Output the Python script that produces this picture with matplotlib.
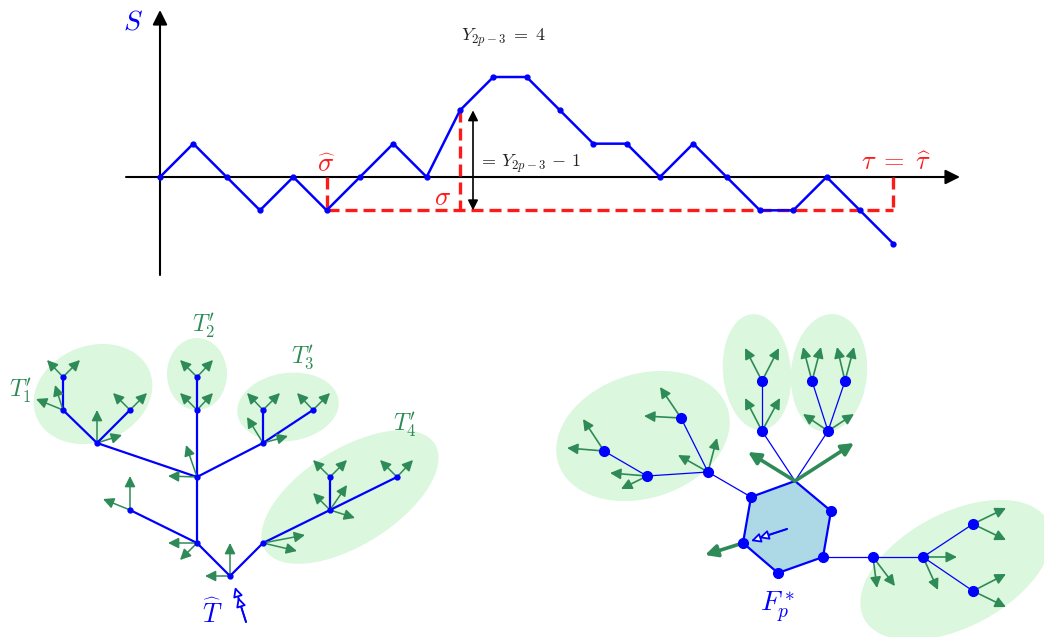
import matplotlib.pyplot as plt
from matplotlib.patches import Ellipse, Polygon, FancyArrowPatch

plt.rcParams['mathtext.fontset'] = 'cm'

BLUE = '#0000ff'
GREEN = '#2e8b57'
BLOB = '#dbf7dd'
RED = '#ff1a1a'

# --- walk S (top panel) ---
walk = [0, 1, 0, -1, 0, -1, 0, 1, 0, 2, 3, 3, 2, 1, 1, 0, 1, 0, -1, -1, 0, -1, -2]
i_sigma_hat = 5
i_sigma = 9
i_tau = 22
ox, oy, step = 160, 177, 33.33

# --- left tree T ---
lt_nodes = {
    'r': (230, 576), 'A': (197, 543), 'B': (263, 543), 'C': (197, 477),
    'D': (130, 510), 'H': (97, 443), 'M': (197, 410), 'N': (197, 377),
    'I': (263, 443), 'J': (63, 410), 'L': (63, 377), 'K': (130, 410),
    'O': (263, 410), 'P': (313, 410), 'E': (330, 510), 'F': (330, 477),
    'G': (397, 477),
}
lt_edges = [('r', 'A'), ('r', 'B'), ('A', 'C'), ('A', 'D'), ('C', 'H'),
            ('C', 'M'), ('M', 'N'), ('C', 'I'), ('H', 'J'), ('J', 'L'),
            ('H', 'K'), ('I', 'O'), ('I', 'P'), ('B', 'E'), ('E', 'F'),
            ('E', 'G')]
lt_arrows = [('r', (230, 543)), ('r', (205, 576)),
             ('A', (168, 543)), ('A', (180, 560)),
             ('D', (130, 476)), ('D', (103, 499)),
             ('C', (168, 476)), ('C', (186, 445)),
             ('B', (305, 535)), ('B', (297, 551)),
             ('E', (313, 493)), ('E', (347, 485)), ('E', (355, 518)),
             ('F', (313, 460)), ('F', (347, 460)),
             ('G', (380, 460)), ('G', (413, 460)),
             ('H', (97, 410)), ('H', (122, 435)),
             ('J', (36, 399)), ('J', (55, 385)),
             ('L', (47, 360)), ('L', (80, 360)),
             ('K', (113, 393)), ('K', (147, 393)),
             ('M', (180, 393)), ('M', (213, 393)),
             ('N', (180, 360)), ('N', (213, 360)),
             ('I', (247, 417)), ('I', (288, 436)),
             ('O', (247, 393)), ('O', (280, 393)),
             ('P', (297, 393)), ('P', (330, 393))]
# blobs: centre, width, height, angle
lt_blobs = [((93, 394), 122, 96, -22), ((197, 374), 60, 72, 0),
            ((288, 407), 102, 68, -8), ((350, 497), 200, 96, -32)]
lt_labels = [(r"$T^{\prime}_{1}$", (20, 391)), (r"$T^{\prime}_{2}$", (204, 326)),
             (r"$T^{\prime}_{3}$", (303, 358)), (r"$T^{\prime}_{4}$", (405, 425))]

# --- right forest F_p^* ---
hexagon = [(795, 481), (831, 511), (823, 557), (778, 573), (743, 543), (751, 497)]
rt_nodes = {
    'V1': hexagon[0], 'V3': hexagon[2], 'V5': hexagon[4], 'V6': hexagon[5],
    'Q': (708, 472), 'Q1': (681, 418), 'Q2': (647, 476), 'Q3': (604, 451),
    'R1': (762, 431), 'R1a': (762, 381), 'R2': (828, 431), 'R2a': (812, 381),
    'R2b': (845, 381), 'S1': (873, 557), 'S2': (923, 557), 'S3': (973, 524),
    'S4': (973, 591),
}
rt_edges = [('V6', 'Q'), ('Q', 'Q1'), ('Q', 'Q2'), ('Q2', 'Q3'), ('V1', 'R1'),
            ('V1', 'R2'), ('R1', 'R1a'), ('R2', 'R2a'), ('R2', 'R2b'),
            ('V3', 'S1'), ('S1', 'S2'), ('S2', 'S3'), ('S2', 'S4')]
rt_arrows = [('Q', (717, 438)), ('Q', (678, 455)),
             ('Q1', (660, 387)), ('Q1', (644, 416)),
             ('Q3', (583, 419)), ('Q3', (567, 448)),
             ('Q2', (610, 473)), ('Q2', (621, 489)),
             ('R1', (745, 398)), ('R1', (780, 398)),
             ('R1a', (745, 348)), ('R1a', (779, 348)),
             ('R2', (803, 414)), ('R2', (854, 414)),
             ('R2a', (803, 347)), ('R2a', (821, 347)),
             ('R2b', (837, 347)), ('R2b', (854, 347)),
             ('S1', (877, 588)), ('S1', (895, 586)),
             ('S2', (957, 557)), ('S2', (938, 590)),
             ('S3', (1006, 508)), ('S3', (1006, 540)),
             ('S4', (1006, 574)), ('S4', (1006, 607))]
rt_thick_arrows = [('V1', (748, 452)), ('V1', (854, 443)), ('V5', (705, 555))]
rt_dots = ['Q', 'Q1', 'Q2', 'Q3', 'R1', 'R1a', 'R2', 'R2a', 'R2b',
           'S1', 'S2', 'S3', 'S4']
rt_blobs = [((643, 436), 178, 124, -18), ((757, 372), 68, 116, -5),
            ((829, 373), 76, 118, 5), ((956, 570), 208, 114, -28)]


def arrow(ax, p, q, color=GREEN, lw=1.2, ms=16, fc=None, z=3):
    a = FancyArrowPatch(p, q, arrowstyle='-|>', mutation_scale=ms, lw=lw,
                        color=color, shrinkA=0, shrinkB=0, zorder=z)
    if fc is not None:
        a.set_facecolor(fc)
    ax.add_patch(a)


fig = plt.figure(figsize=(10.44, 6.37), dpi=100)
ax = fig.add_axes([0, 0, 1, 1])
ax.set_xlim(0, 1044)
ax.set_ylim(637, 0)
ax.axis('off')

# ---------------- top panel ----------------
arrow(ax, (160, 275), (160, 10), color='black', lw=1.5, ms=22)
arrow(ax, (126, oy), (960, oy), color='black', lw=1.5, ms=22)
ax.text(133, 22, '$S$', color=BLUE, fontsize=20, ha='center', va='center')

xs = [ox + i * step for i in range(len(walk))]
ys = [oy - v * step for v in walk]
ax.plot(xs, ys, color=BLUE, lw=1.8, marker='o', ms=3.5, zorder=4)

low = ys[i_sigma_hat]
dash = dict(color=RED, lw=2.4, linestyle=(0, (3.6, 1.8)), zorder=3)
ax.plot([xs[i_sigma_hat], xs[i_tau]], [low, low], **dash)
ax.plot([xs[i_sigma_hat], xs[i_sigma_hat]], [oy, low], **dash)
ax.plot([xs[i_sigma], xs[i_sigma]], [ys[i_sigma], low], **dash)
ax.plot([xs[i_tau], xs[i_tau]], [oy, low], **dash)

a = FancyArrowPatch((473, ys[i_sigma]), (473, low), arrowstyle='<|-|>',
                    mutation_scale=15, lw=1.2, color='black',
                    shrinkA=0, shrinkB=0, zorder=5)
ax.add_patch(a)
ax.text(478, 164, r'$=\, Y_{2p-3} \,-\, 1$', fontsize=13, color='#222222',
        ha='left', va='center')
ax.text(503, 38, r'$Y_{2p-3} \;=\; 4$', fontsize=13, color='#222222',
        ha='center', va='center')
ax.text(326, 165, r'$\widehat{\sigma}$', color=RED, fontsize=19,
        ha='center', va='center')
ax.text(443, 198, r'$\sigma$', color=RED, fontsize=19, ha='center', va='center')
ax.text(896, 163, r'$\tau \;=\; \widehat{\tau}$', color=RED, fontsize=19,
        ha='center', va='center')

# ---------------- left tree ----------------
for (c, w, h, ang) in lt_blobs:
    ax.add_patch(Ellipse(c, w, h, angle=ang, fc=BLOB, ec='none', zorder=0))
for u, v in lt_edges:
    (x1, y1), (x2, y2) = lt_nodes[u], lt_nodes[v]
    ax.plot([x1, x2], [y1, y2], color=BLUE, lw=1.6, zorder=2)
for u, tip in lt_arrows:
    arrow(ax, lt_nodes[u], tip, lw=1.1)
for name, (x, y) in lt_nodes.items():
    ax.plot(x, y, 'o', color=BLUE, ms=3.5, zorder=4)
for txt, (x, y) in lt_labels:
    ax.text(x, y, txt, color=GREEN, fontsize=17, ha='center', va='center')
ax.text(212, 614, r'$\widehat{T}$', color=BLUE, fontsize=19,
        ha='center', va='center')
arrow(ax, (246, 622), (235, 587), color=BLUE, lw=1.3, ms=14, fc='white', z=5)
arrow(ax, (246, 622), (238, 597), color=BLUE, lw=1.3, ms=14, fc='white', z=5)

# ---------------- right forest ----------------
for (c, w, h, ang) in rt_blobs:
    ax.add_patch(Ellipse(c, w, h, angle=ang, fc=BLOB, ec='none', zorder=0))
ax.add_patch(Polygon(hexagon, closed=True, fc='#add8e6', ec=BLUE, lw=1.6,
                     zorder=2))
for u, v in rt_edges:
    (x1, y1), (x2, y2) = rt_nodes[u], rt_nodes[v]
    ax.plot([x1, x2], [y1, y2], color=BLUE, lw=0.9, zorder=2)
for u, tip in rt_arrows:
    arrow(ax, rt_nodes[u], tip, lw=1.2)
for u, tip in rt_thick_arrows:
    arrow(ax, rt_nodes[u], tip, lw=2.6, ms=18)
for name in rt_dots:
    x, y = rt_nodes[name]
    ax.plot(x, y, 'o', color=BLUE, ms=7, zorder=4)
hx = [p[0] for p in hexagon[1:]]
hy = [p[1] for p in hexagon[1:]]
ax.plot(hx, hy, 'o', color=BLUE, ms=7, ls='none', zorder=4)
arrow(ax, (787, 529), (751, 541), color=BLUE, lw=1.3, ms=14, fc='white', z=5)
arrow(ax, (787, 529), (759, 538), color=BLUE, lw=1.3, ms=14, fc='white', z=5)
ax.text(777, 607, '$F_p^*$', color=BLUE, fontsize=20, ha='center', va='center')

fig.savefig('out.png', dpi=100)
